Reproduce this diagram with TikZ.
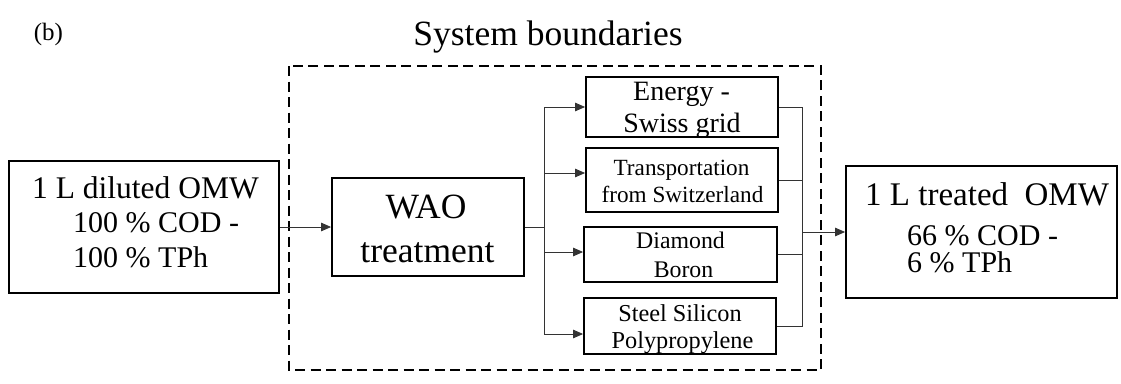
\documentclass[tikz,border=0pt]{standalone}
\usepackage{fontspec}
\setmainfont{Liberation Serif}
\usetikzlibrary{arrows.meta,calc}
\newcommand{\fs}[1]{\fontsize{#1}{#1}\selectfont}
\newcommand{\twolines}[4]{\vtop{\fs{#1}\baselineskip=#2pt\hbox{#3}\hbox{#4}}}
\tikzset{
  box/.style={draw=black,line width=1.8pt,minimum width=#1,inner sep=0pt},
  txt/.style={inner sep=0pt,anchor=base},
  ltxt/.style={inner sep=0pt,anchor=base west},
  conn/.style={draw=black!80,line width=0.9pt},
  arr/.style={conn,-{Triangle[length=10pt,width=8.5pt]}},
  bound/.style={draw=black,line width=2pt,dash pattern=on 10pt off 5.5pt}
}
\begin{document}
\begin{tikzpicture}[x=1pt,y=-1pt]
\useasboundingbox (0,0) rectangle (1121,383);
% title and label
\node[txt] (lbl) at (48.5,40) {\fs{25}(b)};
\node[txt] (title) at (548,45) {\fs{35.5}System boundaries};
% system boundary
\draw[bound] (289,66) rectangle (821,370);
% boxes
\node[box=270pt,minimum height=132pt] (in) at (144,227) {};
\node[box=192pt,minimum height=98pt] (wao) at (428,227) {};
\node[box=192pt,minimum height=60pt] (en) at (682,107) {};
\node[box=192pt,minimum height=64pt] (tr) at (682,180) {};
\node[box=193pt,minimum height=55pt] (di) at (680.5,254.5) {};
\node[box=192pt,minimum height=56pt] (st) at (680,326) {};
\node[box=271pt,minimum height=132pt] (out) at (981.5,232) {};
% texts
\node[ltxt] (in1) at (32,198) {\fs{31.5}1 L diluted OMW};
\node[ltxt] (in2) at (73,232) {\twolines{30}{35}{100 \% COD -}{100 \% TPh}};
\node[txt] (w1) at (426,218) {\fs{35.5}WAO};
\node[txt] (w2) at (427.5,262) {\fs{35.5}treatment};
\node[txt] (e1) at (681.5,100) {\fs{28}Energy -};
\node[txt] (e2) at (682,132) {\fs{28}Swiss grid};
\node[txt] (t1) at (681.5,175) {\fs{23.2}Transportation};
\node[txt] (t2) at (682.5,202) {\fs{23.2}from Switzerland};
\node[txt] (d1) at (680.5,248) {\fs{23.8}Diamond};
\node[txt] (d2) at (683.5,277) {\fs{23.8}Boron};
\node[txt] (s1) at (680,321) {\fs{24.3}Steel Silicon};
\node[txt] (s2) at (682.5,348) {\fs{24.3}Polypropylene};
\node[ltxt] (o1) at (865,205) {\fs{33}1 L treated\ \ OMW};
\node[ltxt] (o2) at (907,245) {\twolines{30}{27}{66 \% COD -}{6 \% TPh}};
% connectors
\coordinate (bj) at (544,227);
\coordinate (b1) at (544,107);
\coordinate (b2) at (544,173);
\coordinate (b3) at (544,252);
\coordinate (b4) at (544,334);
\coordinate (cj) at (802,232);
\draw[arr] (in.east) -- (wao.west);
\draw[conn] (wao.east) -- (bj);
\draw[conn] (b1) -- (b4);
\draw[arr] (b1) -- (en.west |- b1);
\draw[arr] (b2) -- (tr.west |- b2);
\draw[arr] (b3) -- (di.west |- b3);
\draw[arr] (b4) -- (st.west |- b4);
\draw[conn] (en.east) -- (en.east -| cj) -- (st.east -| cj) -- (st.east);
\draw[conn] (tr.east) -- (tr.east -| cj);
\draw[conn] (di.east) -- (di.east -| cj);
\draw[arr] (cj) -- (out.west);
\end{tikzpicture}
\end{document}
